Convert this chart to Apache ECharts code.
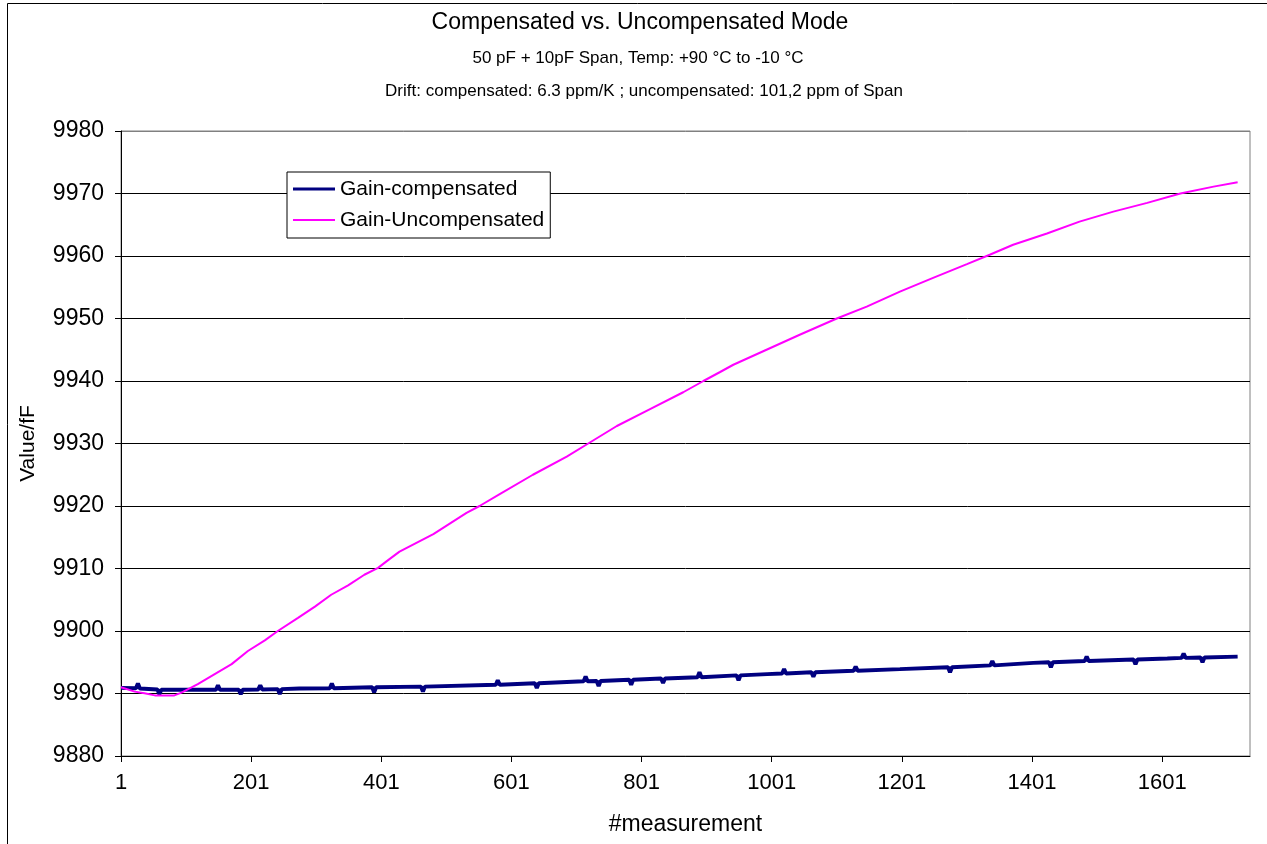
<!DOCTYPE html>
<html>
<head>
<meta charset="utf-8">
<script src="https://cdn.jsdelivr.net/npm/echarts@6/dist/echarts.min.js"></script>
<style>
  html, body { margin: 0; padding: 0; background: #fff; }
  #chart { width: 1267px; height: 844px; }
</style>
</head>
<body>
<div id="chart"></div>
<script>
// ---- Data ----
const titleLines = [
  'Compensated vs. Uncompensated Mode',
  '50 pF + 10pF Span, Temp: +90 °C to -10 °C',
  'Drift: compensated: 6.3 ppm/K ; uncompensated: 101,2 ppm of Span'
];
const seriesNames = ['Gain-compensated', 'Gain-Uncompensated'];
const yTicks = [9880, 9890, 9900, 9910, 9920, 9930, 9940, 9950, 9960, 9970, 9980];
const xTickLabels = [1, 201, 401, 601, 801, 1001, 1201, 1401, 1601];

// Gain-Uncompensated (magenta)
const uncompX = [1, 22, 37, 53, 83, 94, 119, 145, 171, 196, 222, 242, 273, 299, 324, 350, 375, 396, 411, 429,
  481, 532, 552, 583, 634, 686, 719, 763, 814, 865, 896, 921, 942, 993, 1044, 1101, 1147, 1198, 1249, 1301,
  1336, 1372, 1424, 1474, 1526, 1578, 1629, 1680, 1717];
const uncompY = [9891.0, 9890.3, 9890.05, 9889.7, 9889.7, 9890.15, 9891.5, 9893.1, 9894.7, 9896.8, 9898.5, 9900.0,
  9902.1, 9903.9, 9905.8, 9907.3, 9909.0, 9910.1, 9911.3, 9912.7, 9915.5, 9918.9, 9920.0, 9921.9, 9925.0, 9927.9,
  9930.0, 9932.8, 9935.5, 9938.2, 9940.0, 9941.4, 9942.6, 9945.0, 9947.4, 9950.0, 9951.9, 9954.3, 9956.5, 9958.7,
  9960.2, 9961.8, 9963.6, 9965.5, 9967.1, 9968.5, 9970.0, 9971.1, 9971.8];

// Gain-compensated (navy), including the small visible spikes
const compX = [1, 24, 27, 30, 57, 60, 63, 147, 150, 153, 182, 185, 188, 212, 215, 218, 242, 245, 248, 275,
  322, 325, 328, 387, 390, 393, 462, 465, 468, 577, 580, 583, 637, 640, 643, 712, 715, 718, 732, 735, 738,
  782, 785, 788, 831, 834, 837, 887, 890, 893, 947, 950, 953, 994, 1017, 1020, 1023, 1062, 1065, 1068,
  1127, 1130, 1133, 1198, 1272, 1275, 1278, 1337, 1340, 1343, 1403, 1427, 1430, 1433, 1482, 1485, 1488,
  1557, 1560, 1563, 1609, 1631, 1634, 1637, 1660, 1663, 1666, 1717];
const compY = [9890.9, 9890.85, 9891.6, 9890.8, 9890.65, 9889.9, 9890.6, 9890.6, 9891.3, 9890.6, 9890.6, 9889.9,
  9890.6, 9890.65, 9891.3, 9890.65, 9890.7, 9889.9, 9890.7, 9890.8, 9890.85, 9891.6, 9890.85, 9891.0, 9890.2,
  9891.0, 9891.1, 9890.3, 9891.1, 9891.4, 9892.1, 9891.4, 9891.65, 9890.9, 9891.65, 9891.95, 9892.7, 9891.95,
  9892.0, 9891.2, 9892.0, 9892.2, 9891.4, 9892.2, 9892.4, 9891.7, 9892.4, 9892.6, 9893.4, 9892.6, 9892.9,
  9892.1, 9892.9, 9893.1, 9893.2, 9893.9, 9893.2, 9893.4, 9892.7, 9893.4, 9893.65, 9894.3, 9893.65, 9893.9,
  9894.2, 9893.4, 9894.2, 9894.5, 9895.2, 9894.5, 9894.9, 9895.0, 9894.2, 9895.0, 9895.2, 9895.9, 9895.2,
  9895.45, 9894.7, 9895.45, 9895.6, 9895.7, 9896.4, 9895.7, 9895.75, 9895.0, 9895.75, 9895.9];

const xMin = 1, xMax = 1736, xStep = 200;
const yMin = 9880, yMax = 9980, yStep = 10;

// ---- Build chart ----
const FONT = '"Liberation Sans", Arial, sans-serif';
const TFONT = '"Liberation Sans", Arial, sans-serif';
const zip = (xs, ys) => xs.map((x, i) => [x, ys[i]]);

const chart = echarts.init(document.getElementById('chart'), null, { renderer: 'canvas' });
const splitColors = yTicks.map((v, i) => (i === yTicks.length - 1 ? '#808080' : '#000000'));

// legend line samples: invisible corner points keep the 42x14 box, bar gives the line thickness
const iconBlue = 'path://M0,0L0,0M42,14L42,14M0,5.5H42V8.5H0Z';
const iconPink = 'path://M0,0L0,0M42,14L42,14M0,6H42V8H0Z';

chart.setOption({
  animation: false,
  backgroundColor: '#ffffff',
  textStyle: { fontFamily: FONT },
  grid: {
    left: 121, right: 17, top: 131, bottom: 88,
    show: true, borderColor: '#808080', borderWidth: 1, backgroundColor: 'transparent'
  },
  graphic: [
    { type: 'rect', silent: true, z: -10,
      shape: { x: 7.5, y: 3.5, width: 1400, height: 1000 },
      style: { fill: 'none', stroke: '#000', lineWidth: 1 } },
    { type: 'text', silent: true, style: { x: 640, y: 23, text: titleLines[0], textAlign: 'center', textVerticalAlign: 'middle', font: '23px ' + TFONT, fill: '#000' } },
    { type: 'text', silent: true, style: { x: 638, y: 58, text: titleLines[1], textAlign: 'center', textVerticalAlign: 'middle', font: '17px ' + TFONT, fill: '#000' } },
    { type: 'text', silent: true, style: { x: 644, y: 91, text: titleLines[2], textAlign: 'center', textVerticalAlign: 'middle', font: '17px ' + TFONT, fill: '#000' } }
  ],
  legend: {
    orient: 'vertical', left: 287, top: 172,
    padding: [6, 6, 7, 6],
    itemWidth: 42, itemHeight: 14, itemGap: 9,
    backgroundColor: '#ffffff', borderColor: '#000000', borderWidth: 1,
    itemStyle: { borderWidth: 0 },
    textStyle: { fontSize: 21, color: '#000', fontFamily: FONT, lineHeight: 22 },
    data: [
      { name: seriesNames[0], icon: iconBlue },
      { name: seriesNames[1], icon: iconPink }
    ]
  },
  xAxis: {
    type: 'value', min: xMin, max: xMax, interval: xStep,
    name: '#measurement', nameLocation: 'middle', nameGap: 57,
    nameTextStyle: { fontSize: 23, color: '#000', fontFamily: TFONT },
    axisLine: { show: true, onZero: false, lineStyle: { color: '#000', width: 1 } },
    axisTick: { show: true, inside: false, length: 6, lineStyle: { color: '#000' } },
    axisLabel: { fontSize: 22, color: '#000', margin: 16, showMaxLabel: false, fontFamily: FONT,
      formatter: v => (xTickLabels.indexOf(v) >= 0 ? String(v) : '') },
    splitLine: { show: false }
  },
  yAxis: {
    type: 'value', min: yMin, max: yMax, interval: yStep,
    name: 'Value/fF', nameLocation: 'middle', nameGap: 82, nameRotate: 90,
    nameTextStyle: { fontSize: 21, color: '#000', fontFamily: TFONT },
    axisLine: { show: true, lineStyle: { color: '#000', width: 1 } },
    axisTick: { show: true, inside: false, length: 6, lineStyle: { color: '#000' } },
    axisLabel: { fontSize: 23, color: '#000', margin: 17, fontFamily: FONT,
      formatter: v => String(v) },
    splitLine: { show: true, lineStyle: { color: splitColors, width: 1 } }
  },
  series: [
    { name: seriesNames[0], type: 'line', data: zip(compX, compY), symbol: 'none', showSymbol: false,
      lineStyle: { color: '#000080', width: 4 }, itemStyle: { color: '#000080' }, z: 3 },
    { name: seriesNames[1], type: 'line', data: zip(uncompX, uncompY), symbol: 'none', showSymbol: false,
      lineStyle: { color: '#ff00ff', width: 2 }, itemStyle: { color: '#ff00ff' }, z: 4 }
  ]
});
</script>
</body>
</html>
